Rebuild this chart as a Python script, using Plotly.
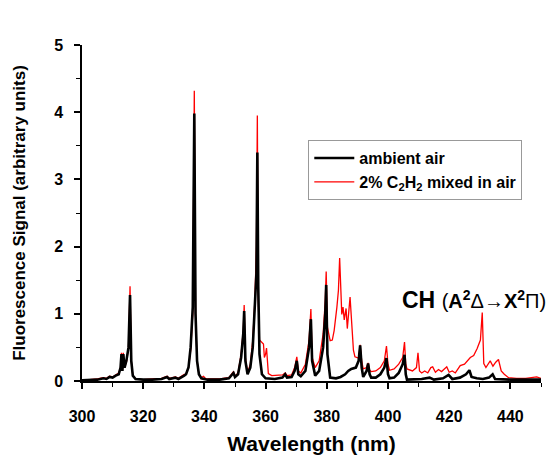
import plotly.graph_objects as go

# ---- data ----
wl_air = [300, 303, 305, 307, 308, 309, 310, 311, 312, 312.6, 312.9, 313.2, 313.5, 313.9, 314.5, 315.2, 315.7, 316.1, 316.6, 317.5,
          320, 323, 326, 327.8, 328.5, 330.5, 331.5, 333.4, 334, 334.8, 335.5, 336.2, 336.7, 337.1, 337.6, 338.2, 339, 341, 345, 348,
          349.5, 350, 351, 352, 352.7, 353.0, 353.4, 354.1, 355, 355.8, 356.5, 357.0, 357.3, 357.6, 358.0, 358.8, 360, 363, 365.5, 366.4,
          367, 368.5, 369.5, 370.2, 370.7, 371.5, 373, 374.2, 374.8, 375.2, 376.2, 377.5, 378.8, 379.5, 379.8, 380.2, 381.1, 383, 384.5, 386,
          387, 388, 389.5, 390.4, 390.9, 391.4, 391.9, 393, 393.5, 394, 394.5, 396, 397.5, 398.8, 399.5, 400, 400.5, 402, 403.5, 404.8,
          405.4, 405.8, 406.2, 409, 411, 413.6, 415, 418, 419.8, 421, 423.5, 425.5, 426.6, 427.3, 429, 431, 433, 434.2, 435, 440,
          445, 450]
sig_air = [0.01, 0.01, 0.02, 0.04, 0.03, 0.06, 0.05, 0.08, 0.10, 0.20, 0.40, 0.15, 0.40, 0.20, 0.30, 0.50, 1.28, 0.30, 0.08, 0.03,
           0.02, 0.02, 0.03, 0.06, 0.03, 0.05, 0.03, 0.08, 0.10, 0.20, 0.50, 1.10, 3.98, 1.00, 0.30, 0.10, 0.04, 0.02, 0.02, 0.04,
           0.12, 0.06, 0.10, 0.35, 0.70, 1.04, 0.30, 0.10, 0.20, 0.50, 1.10, 1.60, 3.40, 1.40, 0.40, 0.10, 0.04, 0.03, 0.05, 0.10,
           0.05, 0.06, 0.15, 0.30, 0.10, 0.07, 0.15, 0.50, 0.92, 0.30, 0.08, 0.15, 0.50, 1.00, 1.43, 0.40, 0.05, 0.04, 0.06, 0.10,
           0.15, 0.18, 0.20, 0.30, 0.53, 0.20, 0.06, 0.15, 0.26, 0.10, 0.05, 0.05, 0.10, 0.20, 0.34, 0.10, 0.04, 0.05, 0.12, 0.25,
           0.39, 0.10, 0.02, 0.02, 0.03, 0.05, 0.02, 0.04, 0.09, 0.03, 0.05, 0.10, 0.16, 0.06, 0.04, 0.03, 0.05, 0.10, 0.03, 0.02,
           0.02, 0.02]

wl_mix = [300, 303, 305, 307, 308, 309, 310, 311, 312, 312.6, 312.9, 313.2, 313.5, 313.9, 314.6, 315.2, 315.7, 316.1, 316.6, 317.5,
          320, 323, 326, 327.8, 328.5, 330.5, 331.5, 333.4, 334, 334.8, 335.5, 336.2, 336.7, 337.1, 337.6, 338.2, 339, 339.7, 340.5, 345,
          348, 349.5, 350, 351, 352, 352.7, 353.0, 353.4, 354.1, 355, 355.8, 356.5, 357.0, 357.3, 357.6, 358.0, 358.6, 359.3, 359.6, 360.0,
          360.3, 360.9, 362, 364, 365.5, 366.4, 367, 368.5, 369.5, 370.2, 370.7, 371.5, 373, 374.2, 374.8, 375.2, 376.2, 377.5, 378.8, 379.5,
          379.8, 380.2, 381.1, 381.8, 382.4, 383.3, 383.8, 384.2, 384.9, 385.3, 385.7, 386.3, 386.7, 387.6, 388.2, 388.7, 389.2, 390.4, 390.9, 391.4,
          391.9, 393, 393.5, 394, 394.5, 396, 397.5, 398.8, 399.5, 400, 400.5, 402, 403.5, 404.8, 405.4, 405.8, 406.2, 408, 409.3, 409.8,
          410.3, 411, 412, 413, 414, 414.6, 415.5, 416.5, 417.5, 418.5, 419.2, 420, 421, 422, 423.6, 425, 426.9, 428, 429.1, 430.2,
          430.8, 431.3, 432, 433.4, 434.3, 435.2, 436.1, 437, 438, 439.4, 442, 445, 448.6, 450]
sig_mix = [0.01, 0.02, 0.03, 0.05, 0.04, 0.07, 0.06, 0.09, 0.12, 0.20, 0.42, 0.15, 0.42, 0.20, 0.30, 0.50, 1.41, 0.30, 0.08, 0.03,
           0.02, 0.03, 0.04, 0.07, 0.04, 0.06, 0.04, 0.10, 0.10, 0.20, 0.45, 1.00, 4.32, 1.00, 0.30, 0.10, 0.05, 0.07, 0.03, 0.03,
           0.05, 0.14, 0.07, 0.12, 0.40, 0.75, 1.13, 0.35, 0.12, 0.25, 0.60, 1.20, 2.00, 3.95, 1.20, 0.61, 0.58, 0.55, 0.35, 0.40,
           0.49, 0.11, 0.08, 0.08, 0.09, 0.12, 0.08, 0.09, 0.20, 0.36, 0.15, 0.12, 0.25, 0.60, 1.07, 0.35, 0.20, 0.30, 0.70, 1.20,
           1.63, 0.80, 0.60, 0.61, 0.75, 1.10, 1.35, 1.83, 0.99, 1.10, 0.91, 1.08, 0.78, 1.25, 0.81, 0.46, 0.36, 0.34, 0.54, 0.30,
           0.18, 0.20, 0.27, 0.16, 0.14, 0.15, 0.20, 0.30, 0.52, 0.25, 0.16, 0.18, 0.25, 0.35, 0.58, 0.25, 0.18, 0.15, 0.20, 0.42,
           0.15, 0.12, 0.15, 0.12, 0.20, 0.21, 0.13, 0.17, 0.14, 0.19, 0.21, 0.13, 0.15, 0.12, 0.23, 0.25, 0.35, 0.38, 0.48, 0.61,
           1.02, 0.26, 0.20, 0.30, 0.22, 0.28, 0.32, 0.15, 0.10, 0.05, 0.04, 0.04, 0.06, 0.04]

x_ticks = [300, 320, 340, 360, 380, 400, 420, 440]
y_ticks = [0, 1, 2, 3, 4, 5]

FONT = "Liberation Sans, Arial, sans-serif"

fig = go.Figure()
fig.add_trace(go.Scatter(x=wl_mix, y=sig_mix, mode="lines", name="2% C<sub>2</sub>H<sub>2</sub> mixed in air",
                         line=dict(color="#ff0000", width=1.3), legendrank=2))
fig.add_trace(go.Scatter(x=wl_air, y=sig_air, mode="lines", name="ambient air",
                         line=dict(color="#000000", width=2.6), legendrank=1))

fig.add_annotation(x=403.8, y=1.2, xref="x", yref="y", xanchor="left", yanchor="middle", showarrow=False,
                   text="<b>CH</b> <span style='font-size:20px'>(<b>A<sup>2</sup></b>Δ→<b>X<sup>2</sup></b>Π)</span>",
                   font=dict(family=FONT, size=23, color="black"))

# the page body adds an 8px offset, so the figure is sized 8px smaller
fig.update_layout(
    width=549, height=447,
    margin=dict(l=74, r=16, t=37, b=74),
    paper_bgcolor="white", plot_bgcolor="white",
    font=dict(family=FONT, color="black"),
    showlegend=True,
    legend=dict(x=0.493, y=0.717, xanchor="left", yanchor="top",
                bordercolor="#999999", borderwidth=1, bgcolor="white",
                font=dict(family=FONT, size=16, color="black", weight="bold"),
                tracegroupgap=0, itemwidth=40),
    xaxis=dict(range=[300, 450], tickvals=x_ticks, showline=True, linecolor="black", linewidth=1.5,
               ticks="outside", ticklen=6, tickwidth=1.5, tickcolor="black", automargin=False,
               minor=dict(dtick=10, ticks="outside", ticklen=4, tickwidth=1.2, tickcolor="black"),
               showgrid=False, zeroline=False, ticklabelstandoff=14,
               tickfont=dict(family=FONT, size=16, color="black", weight="bold"),
               title=dict(text="<b>Wavelength (nm)</b>", font=dict(family=FONT, size=21), standoff=12)),
    yaxis=dict(range=[0, 5], tickvals=y_ticks, showline=True, linecolor="black", linewidth=1.5,
               ticks="outside", ticklen=6, tickwidth=1.5, tickcolor="black", automargin=False,
               minor=dict(dtick=0.5, ticks="outside", ticklen=4, tickwidth=1.2, tickcolor="black"),
               showgrid=False, zeroline=False, ticklabelstandoff=8,
               tickfont=dict(family=FONT, size=16, color="black", weight="bold"),
               title=dict(text="<b>Fluorescence Signal (arbitrary units)</b>", font=dict(family=FONT, size=17), standoff=24)),
)

fig.write_html("out.html")
